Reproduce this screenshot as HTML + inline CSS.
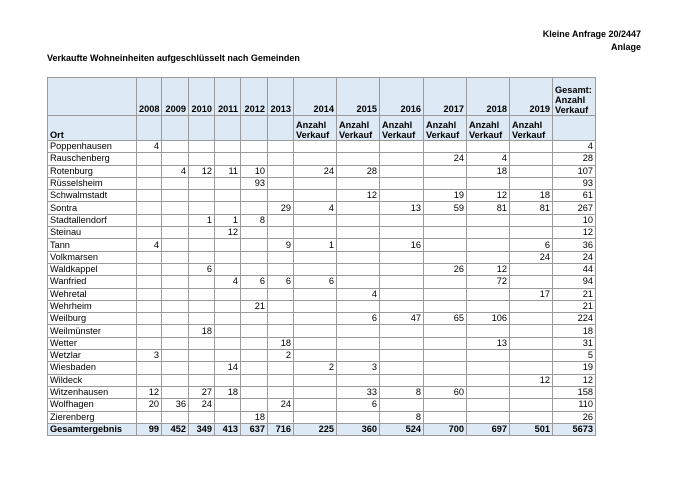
<!DOCTYPE html>
<html><head><meta charset="utf-8"><style>
body{margin:0;width:700px;height:495px;background:#fff;font-family:"Liberation Sans",Arial,sans-serif;position:relative;overflow:hidden}
.h{position:absolute;font-weight:bold;font-size:9px;color:#000}
table{position:absolute;left:47px;top:77px;border-collapse:collapse;table-layout:fixed;width:548px;font-size:9.2px}
td{border:1px solid #9a9a9a;padding:0 2px;height:11.3px;line-height:11px;text-align:right;white-space:nowrap;overflow:hidden}
td:first-child{text-align:left}
tr.hd td{background:#dde9f5;font-weight:bold;vertical-align:bottom}
tr.r1 td{height:37px}
tr.r2 td{height:24px;text-align:left;line-height:10px}
tr.r1 td:last-child{text-align:left;line-height:10px}
tr.t td{background:#dde9f5;font-weight:bold}
</style></head><body>
<div class="h" style="right:59px;top:29px">Kleine Anfrage 20/2447</div>
<div class="h" style="right:59px;top:42px">Anlage</div>
<div class="h" style="left:47px;top:53px">Verkaufte Wohneinheiten aufgeschlüsselt nach Gemeinden</div>
<table>
<colgroup><col style="width:89px"><col style="width:25px"><col style="width:27px"><col style="width:26px"><col style="width:26px"><col style="width:27px"><col style="width:26px"><col style="width:43px"><col style="width:43px"><col style="width:44px"><col style="width:43px"><col style="width:43px"><col style="width:43px"><col style="width:43px"></colgroup>
<tr class="hd r1"><td></td><td>2008</td><td>2009</td><td>2010</td><td>2011</td><td>2012</td><td>2013</td><td>2014</td><td>2015</td><td>2016</td><td>2017</td><td>2018</td><td>2019</td><td>Gesamt:<br>Anzahl<br>Verkauf</td></tr>
<tr class="hd r2"><td>Ort</td><td></td><td></td><td></td><td></td><td></td><td></td><td>Anzahl<br>Verkauf</td><td>Anzahl<br>Verkauf</td><td>Anzahl<br>Verkauf</td><td>Anzahl<br>Verkauf</td><td>Anzahl<br>Verkauf</td><td>Anzahl<br>Verkauf</td><td></td></tr>
<tr><td>Poppenhausen</td><td>4</td><td></td><td></td><td></td><td></td><td></td><td></td><td></td><td></td><td></td><td></td><td></td><td>4</td></tr>
<tr><td>Rauschenberg</td><td></td><td></td><td></td><td></td><td></td><td></td><td></td><td></td><td></td><td>24</td><td>4</td><td></td><td>28</td></tr>
<tr><td>Rotenburg</td><td></td><td>4</td><td>12</td><td>11</td><td>10</td><td></td><td>24</td><td>28</td><td></td><td></td><td>18</td><td></td><td>107</td></tr>
<tr><td>Rüsselsheim</td><td></td><td></td><td></td><td></td><td>93</td><td></td><td></td><td></td><td></td><td></td><td></td><td></td><td>93</td></tr>
<tr><td>Schwalmstadt</td><td></td><td></td><td></td><td></td><td></td><td></td><td></td><td>12</td><td></td><td>19</td><td>12</td><td>18</td><td>61</td></tr>
<tr><td>Sontra</td><td></td><td></td><td></td><td></td><td></td><td>29</td><td>4</td><td></td><td>13</td><td>59</td><td>81</td><td>81</td><td>267</td></tr>
<tr><td>Stadtallendorf</td><td></td><td></td><td>1</td><td>1</td><td>8</td><td></td><td></td><td></td><td></td><td></td><td></td><td></td><td>10</td></tr>
<tr><td>Steinau</td><td></td><td></td><td></td><td>12</td><td></td><td></td><td></td><td></td><td></td><td></td><td></td><td></td><td>12</td></tr>
<tr><td>Tann</td><td>4</td><td></td><td></td><td></td><td></td><td>9</td><td>1</td><td></td><td>16</td><td></td><td></td><td>6</td><td>36</td></tr>
<tr><td>Volkmarsen</td><td></td><td></td><td></td><td></td><td></td><td></td><td></td><td></td><td></td><td></td><td></td><td>24</td><td>24</td></tr>
<tr><td>Waldkappel</td><td></td><td></td><td>6</td><td></td><td></td><td></td><td></td><td></td><td></td><td>26</td><td>12</td><td></td><td>44</td></tr>
<tr><td>Wanfried</td><td></td><td></td><td></td><td>4</td><td>6</td><td>6</td><td>6</td><td></td><td></td><td></td><td>72</td><td></td><td>94</td></tr>
<tr><td>Wehretal</td><td></td><td></td><td></td><td></td><td></td><td></td><td></td><td>4</td><td></td><td></td><td></td><td>17</td><td>21</td></tr>
<tr><td>Wehrheim</td><td></td><td></td><td></td><td></td><td>21</td><td></td><td></td><td></td><td></td><td></td><td></td><td></td><td>21</td></tr>
<tr><td>Weilburg</td><td></td><td></td><td></td><td></td><td></td><td></td><td></td><td>6</td><td>47</td><td>65</td><td>106</td><td></td><td>224</td></tr>
<tr><td>Weilmünster</td><td></td><td></td><td>18</td><td></td><td></td><td></td><td></td><td></td><td></td><td></td><td></td><td></td><td>18</td></tr>
<tr><td>Wetter</td><td></td><td></td><td></td><td></td><td></td><td>18</td><td></td><td></td><td></td><td></td><td>13</td><td></td><td>31</td></tr>
<tr><td>Wetzlar</td><td>3</td><td></td><td></td><td></td><td></td><td>2</td><td></td><td></td><td></td><td></td><td></td><td></td><td>5</td></tr>
<tr><td>Wiesbaden</td><td></td><td></td><td></td><td>14</td><td></td><td></td><td>2</td><td>3</td><td></td><td></td><td></td><td></td><td>19</td></tr>
<tr><td>Wildeck</td><td></td><td></td><td></td><td></td><td></td><td></td><td></td><td></td><td></td><td></td><td></td><td>12</td><td>12</td></tr>
<tr><td>Witzenhausen</td><td>12</td><td></td><td>27</td><td>18</td><td></td><td></td><td></td><td>33</td><td>8</td><td>60</td><td></td><td></td><td>158</td></tr>
<tr><td>Wolfhagen</td><td>20</td><td>36</td><td>24</td><td></td><td></td><td>24</td><td></td><td>6</td><td></td><td></td><td></td><td></td><td>110</td></tr>
<tr><td>Zierenberg</td><td></td><td></td><td></td><td></td><td>18</td><td></td><td></td><td></td><td>8</td><td></td><td></td><td></td><td>26</td></tr>
<tr class="t"><td>Gesamtergebnis</td><td>99</td><td>452</td><td>349</td><td>413</td><td>637</td><td>716</td><td>225</td><td>360</td><td>524</td><td>700</td><td>697</td><td>501</td><td>5673</td></tr>
</table>
</body></html>
